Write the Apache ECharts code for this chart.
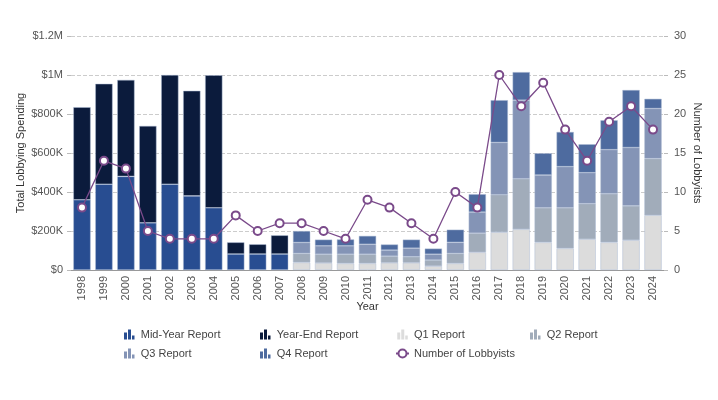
<!DOCTYPE html>
<html><head><meta charset="utf-8">
<script src="https://cdn.jsdelivr.net/npm/echarts@6/dist/echarts.min.js"></script>
<style>html,body{margin:0;padding:0;background:#fff}#c{width:718px;height:400px}</style>
</head><body><div id="c"></div>
<script>
var years = ['1998','1999','2000','2001','2002','2003','2004','2005','2006','2007','2008','2009','2010','2011','2012','2013','2014','2015','2016','2017','2018','2019','2020','2021','2022','2023','2024'];
var midYear = [360000,440000,480000,242000,440000,380000,319000,82000,82000,82000,null,null,null,null,null,null,null,null,null,null,null,null,null,null,null,null,null];
var yearEnd = [475000,515000,495000,497000,560000,539000,680000,60000,50000,96000,null,null,null,null,null,null,null,null,null,null,null,null,null,null,null,null,null];
var q1 = [null,null,null,null,null,null,null,null,null,null,39000,36000,34000,34000,37000,37000,20000,34000,91000,194000,209000,142000,111000,158000,142000,153000,281000];
var q2 = [null,null,null,null,null,null,null,null,null,null,46000,45000,47000,47000,34000,31000,31000,51000,98000,192000,259000,177000,208000,182000,249000,176000,290000];
var q3 = [null,null,null,null,null,null,null,null,null,null,56000,43000,43000,51000,31000,44000,30000,57000,108000,268000,403000,168000,211000,159000,226000,299000,257000];
var q4 = [null,null,null,null,null,null,null,null,null,null,59000,32000,33000,43000,29000,44000,29000,65000,92000,217000,144000,112000,178000,146000,151000,295000,50000];
var lobbyists = [8,14,13,5,4,4,4,7,5,6,6,5,4,9,8,6,4,10,8,25,21,24,18,14,19,21,18];
var leftTicks = ['$0','$200K','$400K','$600K','$800K','$1M','$1.2M'];

var chart = echarts.init(document.getElementById('c'), null, {renderer:'canvas'});
var barIcon = 'path://M0,3h3v7h-3z M4,0h3v10h-3z M8,6h2.5v4h-2.5z';
function barSeries(name, data, color){
  return {name:name, type:'bar', stack:'total', data:data, barCategoryGap:'21%',
    itemStyle:{color:color, borderColor:'rgba(170,185,210,0.8)', borderWidth:0.6}};
}
var legendBase = {orient:'vertical', itemWidth:13, itemHeight:10, itemGap:8,
  itemStyle:{borderWidth:0},
  textStyle:{color:'#444', fontSize:11, fontFamily:'Liberation Sans, Arial, sans-serif'}};
chart.setOption({
  animation:false,
  textStyle:{fontFamily:'Liberation Sans, Arial, sans-serif'},
  grid:{left:71, right:54, top:36, bottom:130},
  legend:[
    Object.assign({left:119, top:324, data:[{name:'Mid-Year Report',icon:barIcon},{name:'Q3 Report',icon:barIcon}]}, legendBase),
    Object.assign({left:255, top:324, data:[{name:'Year-End Report',icon:barIcon},{name:'Q4 Report',icon:barIcon}]}, legendBase),
    Object.assign({left:390, top:324, data:[{name:'Q1 Report',icon:barIcon},{name:'Number of Lobbyists',itemStyle:{borderWidth:1}}]}, legendBase),
    Object.assign({left:525, top:324, data:[{name:'Q2 Report',icon:barIcon}]}, legendBase)
  ],
  xAxis:{type:'category', data:years, name:'Year', nameLocation:'middle', nameGap:31, nameMoveOverlap:false,
    nameTextStyle:{color:'#333', fontSize:11},
    axisLine:{lineStyle:{color:'#999'}}, axisTick:{show:false},
    axisLabel:{rotate:90, color:'#555', fontSize:11, interval:0, margin:6}},
  yAxis:[
    {type:'value', min:0, max:1200000, interval:200000, name:'Total Lobbying Spending',
     nameLocation:'middle', nameGap:45, nameRotate:90, nameMoveOverlap:false, nameTextStyle:{color:'#333', fontSize:11},
     axisLine:{show:false}, axisTick:{show:true, length:4, lineStyle:{color:'#bbb'}},
     axisLabel:{color:'#555', fontSize:11, formatter:function(v){return leftTicks[Math.round(v/200000)];}},
     splitLine:{lineStyle:{type:'dashed', color:'#ccc'}}},
    {type:'value', min:0, max:30, interval:5, name:'Number of Lobbyists',
     nameLocation:'middle', nameGap:28, nameRotate:-90, nameMoveOverlap:false, nameTextStyle:{color:'#333', fontSize:11},
     axisLine:{show:false}, axisTick:{show:true, length:4, lineStyle:{color:'#bbb'}},
     axisLabel:{color:'#555', fontSize:11, margin:10},
     splitLine:{show:false}}
  ],
  series:[
    barSeries('Mid-Year Report', midYear, '#284d91'),
    barSeries('Year-End Report', yearEnd, '#0b1b3c'),
    barSeries('Q1 Report', q1, '#dcdcdc'),
    barSeries('Q2 Report', q2, '#a1acba'),
    barSeries('Q3 Report', q3, '#8494b6'),
    barSeries('Q4 Report', q4, '#4e6b9f'),
    {name:'Number of Lobbyists', type:'line', yAxisIndex:1, data:lobbyists, z:5,
     symbol:'emptyCircle', symbolSize:8,
     lineStyle:{color:'#7a4a8a', width:1.3},
     itemStyle:{color:'#7a4a8a', borderWidth:1}}
  ]
});
</script></body></html>
